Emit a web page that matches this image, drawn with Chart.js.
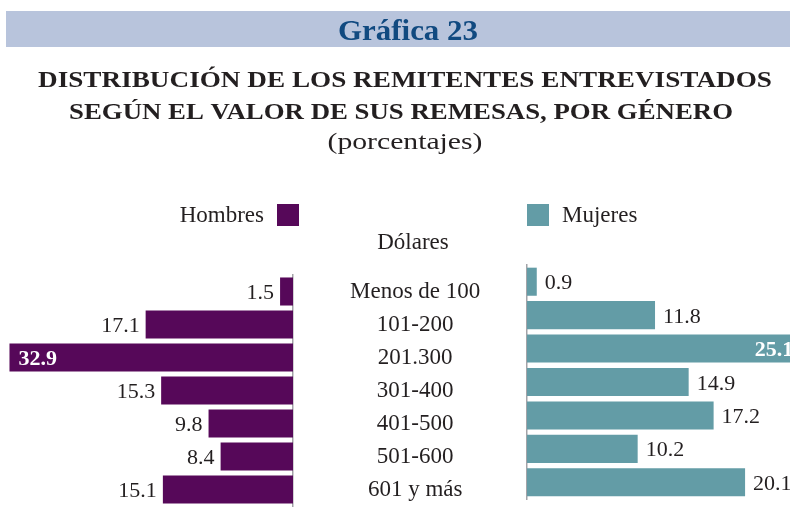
<!DOCTYPE html>
<html><head><meta charset="utf-8">
<script src="https://cdn.jsdelivr.net/npm/chart.js@4/dist/chart.umd.min.js"></script>
<style>
html,body{margin:0;padding:0;background:#fff;}
#wrap{position:relative;width:790px;height:527px;overflow:hidden;background:#fff;}
canvas{position:absolute;left:0;top:0;}
</style></head><body>
<div id="wrap"><canvas id="cL" width="790" height="527"></canvas><canvas id="cR" width="790" height="527"></canvas></div>
<script>
const categories = ['Menos de 100','101-200','201.300','301-400','401-500','501-600','601 y más'];
const hombres = [1.5,17.1,32.9,15.3,9.8,8.4,15.1];
const mujeres = [0.9,11.8,25.1,14.9,17.2,10.2,20.1];
const seriesNames = ['Hombres','Mujeres'];
const bannerText = 'Gráfica 23';
const titleLines = ['DISTRIBUCIÓN DE LOS REMITENTES ENTREVISTADOS','SEGÚN EL VALOR DE SUS REMESAS, POR GÉNERO'];
const subtitleText = '(porcentajes)';
const axisTitle = 'Dólares';

const FONT = '"Liberation Serif", "Times New Roman", serif';
const TXT = '#231f20';
const PURPLE = '#560859';
const TEAL = '#639ca6';
const AXIS = '#a3a3a8';

function fitText(ctx, text, cx, y, font, width) {
  ctx.save();
  ctx.font = font;
  const w = ctx.measureText(text).width;
  ctx.translate(cx, y);
  ctx.scale(width / w, 1);
  ctx.textAlign = 'center';
  ctx.textBaseline = 'alphabetic';
  ctx.fillText(text, 0, 0);
  ctx.restore();
}

const headerPlugin = {
  id: 'header',
  beforeDraw(chart) {
    const ctx = chart.ctx;
    ctx.save();
    ctx.fillStyle = '#ffffff';
    ctx.fillRect(0, 0, chart.width, chart.height);
    ctx.fillStyle = '#b8c4dc';
    ctx.fillRect(6, 11, 784, 36);
    ctx.fillStyle = '#114a80';
    fitText(ctx, bannerText, 408, 40, 'bold 29px ' + FONT, 140);
    ctx.fillStyle = TXT;
    fitText(ctx, titleLines[0], 405, 87, 'bold 24px ' + FONT, 734);
    fitText(ctx, titleLines[1], 401, 119, 'bold 24px ' + FONT, 664);
    fitText(ctx, subtitleText, 405, 149, '24px ' + FONT, 155);
    // legend
    ctx.font = '23px ' + FONT;
    ctx.textBaseline = 'alphabetic';
    ctx.textAlign = 'right';
    ctx.fillText(seriesNames[0], 264, 222);
    ctx.fillStyle = PURPLE;
    ctx.fillRect(277, 204, 22, 22);
    ctx.fillStyle = TEAL;
    ctx.fillRect(527, 204, 22, 22);
    ctx.fillStyle = TXT;
    ctx.textAlign = 'left';
    ctx.fillText(seriesNames[1], 562, 222);
    ctx.textAlign = 'center';
    ctx.fillText(axisTitle, 413, 249);
    ctx.restore();
  }
};

function makeLabels(values, side) {
  return {
    id: 'vals' + side,
    afterDatasetsDraw(chart) {
      const ctx = chart.ctx;
      const meta = chart.getDatasetMeta(0);
      const maxV = Math.max(...values);
      ctx.save();
      ctx.textBaseline = 'alphabetic';
      meta.data.forEach((bar, i) => {
        const v = values[i];
        const inside = v === maxV;
        const txt = v.toFixed(1);
        const y = bar.y + 7.5;
        if (inside) {
          ctx.font = 'bold 22px ' + FONT;
          ctx.fillStyle = '#ffffff';
          if (side === 'L') { ctx.textAlign = 'left'; ctx.fillText(txt, bar.x + 9, y); }
          else { ctx.textAlign = 'right'; ctx.fillText(txt, bar.x - 6, y); }
        } else {
          ctx.font = '22px ' + FONT;
          ctx.fillStyle = TXT;
          if (side === 'L') { ctx.textAlign = 'right'; ctx.fillText(txt, bar.x - 6, y); }
          else { ctx.textAlign = 'left'; ctx.fillText(txt, bar.x + 8, y); }
        }
      });
      ctx.restore();
    }
  };
}

new Chart(document.getElementById('cL'), {
  type: 'bar',
  data: { labels: categories, datasets: [{ label: seriesNames[0], data: hombres, backgroundColor: PURPLE, barPercentage: 0.85, categoryPercentage: 1 }] },
  options: {
    responsive: false, animation: false, indexAxis: 'y',
    layout: { padding: { left: 0, right: 263, top: 275, bottom: 21 } },
    scales: {
      x: { display: false, reverse: true, min: 0, max: 34.0 },
      y: {
        display: true, position: 'right',
        grid: { display: false, drawTicks: false },
        border: { display: true, color: AXIS, width: 1.5 },
        ticks: { font: { family: FONT, size: 23 }, color: TXT, crossAlign: 'center', padding: 57 },
        afterFit(s) { s.width = 234; s.paddingTop = 0; s.paddingBottom = 0; }
      }
    },
    plugins: { legend: { display: false }, tooltip: { enabled: false }, title: { display: false } }
  },
  plugins: [headerPlugin, makeLabels(hombres, 'L')]
});

new Chart(document.getElementById('cR'), {
  type: 'bar',
  data: { labels: categories, datasets: [{ label: seriesNames[1], data: mujeres, backgroundColor: TEAL, barPercentage: 0.84, categoryPercentage: 1 }] },
  options: {
    responsive: false, animation: false, indexAxis: 'y',
    layout: { padding: { left: 527, right: 0, top: 265, bottom: 28 } },
    scales: {
      x: { display: false, min: 0, max: 24.24 },
      y: {
        display: true, position: 'left',
        grid: { display: false, drawTicks: false },
        border: { display: true, color: AXIS, width: 1.5 },
        ticks: { display: false },
        afterFit(s) { s.width = 0; s.paddingTop = 0; s.paddingBottom = 0; }
      }
    },
    plugins: { legend: { display: false }, tooltip: { enabled: false }, title: { display: false } }
  },
  plugins: [makeLabels(mujeres, 'R')]
});
</script>
</body></html>
